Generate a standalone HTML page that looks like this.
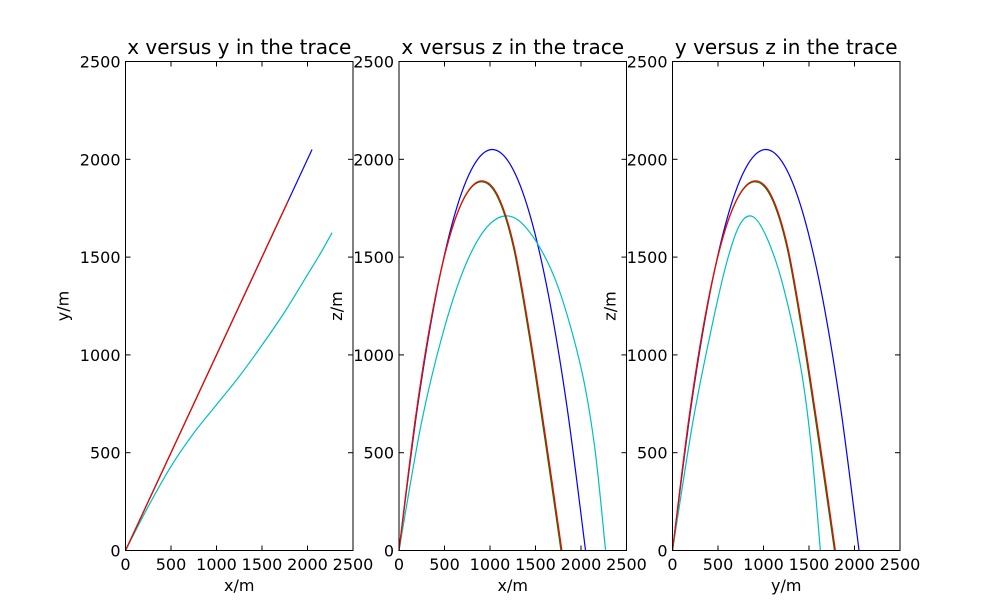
<!DOCTYPE html>
<html><head><meta charset="utf-8"><style>
html,body{margin:0;padding:0;background:#fff;}
svg{display:block;font-family:"DejaVu Sans","Liberation Sans",sans-serif;}
</style></head><body>
<svg id="fig" width="1000" height="612" viewBox="0 0 1000 612"></svg>
<script>
// Tick labels
const xTicks = [0, 500, 1000, 1500, 2000, 2500];
const yTicks = [0, 500, 1000, 1500, 2000, 2500];
// Trajectory samples
const blueX = [0, 205, 410, 615, 820, 1025, 1230, 1435, 1640, 1845, 2050];
const blueY = [0, 205, 410, 615, 820, 1025, 1230, 1435, 1640, 1845, 2050];
const blueZ = [0, 738, 1312, 1722, 1968, 2050, 1968, 1722, 1312, 738, 0];
const greenX = [0, 181, 362, 543, 724, 905, 1080, 1255, 1430, 1605, 1780];
const greenY = [0, 181, 362, 543, 724, 905, 1080, 1255, 1430, 1605, 1780];
const greenZ = [0, 676, 1204, 1582, 1808, 1885, 1810, 1555, 1100, 565, 0];
const redX = [0, 182, 364, 546, 728, 910, 1086, 1262, 1438, 1614, 1790];
const redY = [0, 182, 364, 546, 728, 910, 1086, 1262, 1438, 1614, 1790];
const redZ = [0, 680, 1210, 1588, 1814, 1890, 1815, 1560, 1105, 570, 0];
const cyanX = [0, 250, 500, 750, 1000, 1250, 1500, 1750, 2000, 2150, 2270];
const cyanY = [0, 225, 430, 600, 745, 890, 1050, 1220, 1410, 1525, 1625];
const cyanZ = [0, 660, 1140, 1480, 1670, 1705, 1585, 1345, 935, 530, 0];
const titles = ["x versus y in the trace", "x versus z in the trace", "y versus z in the trace"];
const xLabels = ["x/m", "x/m", "y/m"];
const yLabels = ["y/m", "z/m", "z/m"];

const NS = "http://www.w3.org/2000/svg";
const svg = document.getElementById("fig");
function mk(tag, attrs, parent) {
  const e = document.createElementNS(NS, tag);
  for (const k in attrs) e.setAttribute(k, attrs[k]);
  (parent || svg).appendChild(e);
  return e;
}
const panels = [{l:125.5, r:353}, {l:399, r:626.5}, {l:672.5, r:900}];
const axTop = 61.5, axBot = 550.5;
function sx(p, v) { return p.l + (v / 2500) * (p.r - p.l); }
function sy(v) { return axBot - (v / 2500) * (axBot - axTop); }
function pathFor(p, xs, ys) {
  const pts = xs.map((x, i) => [sx(p, x), sy(ys[i])]);
  let d = "M" + pts[0][0] + "," + pts[0][1];
  for (let i = 0; i < pts.length - 1; i++) {
    const p0 = pts[Math.max(i - 1, 0)], p1 = pts[i], p2 = pts[i + 1], p3 = pts[Math.min(i + 2, pts.length - 1)];
    const c1 = [p1[0] + (p2[0] - p0[0]) / 6, p1[1] + (p2[1] - p0[1]) / 6];
    const c2 = [p2[0] - (p3[0] - p1[0]) / 6, p2[1] - (p3[1] - p1[1]) / 6];
    d += " C" + c1[0] + "," + c1[1] + " " + c2[0] + "," + c2[1] + " " + p2[0] + "," + p2[1];
  }
  return d;
}
const series = [
  {n:"blue", c:"#0000ff", x:blueX, y:blueY, z:blueZ},
  {n:"cyan", c:"#00bfbf", x:cyanX, y:cyanY, z:cyanZ},
  {n:"green", c:"#008000", x:greenX, y:greenY, z:greenZ},
  {n:"red", c:"#ff0000", x:redX, y:redY, z:redZ}
];
panels.forEach((p, pi) => {
  const g = mk("g", {});
  
  
  const t = mk("text", {x:(p.l + p.r) / 2, y:54, "text-anchor":"middle", "font-size":20, fill:"#000"}, g);
  t.textContent = titles[pi];
  
  
  series.forEach(s => {
    let hx, hy;
    if (pi === 0) { hx = s.x; hy = s.y; }
    else if (pi === 1) { hx = s.x; hy = s.z; }
    else { hx = s.y; hy = s.z; }
    const path = mk("path", {d:pathFor(p, hx, hy), fill:"none", stroke:s.c, "stroke-width":1.2}, g);
    
    
  });
  xTicks.forEach(v => {
    const x = sx(p, v);
    mk("line", {x1:x, x2:x, y1:axBot, y2:axBot - 5, stroke:"#000"}, g);
    mk("line", {x1:x, x2:x, y1:axTop, y2:axTop + 5, stroke:"#000"}, g);
    const tl = mk("text", {x:x, y:570, "text-anchor":"middle", "font-size":16}, g);
    tl.textContent = v;
    
    
  });
  yTicks.forEach(v => {
    const y = sy(v);
    mk("line", {x1:p.l, x2:p.l + 5, y1:y, y2:y, stroke:"#000"}, g);
    mk("line", {x1:p.r, x2:p.r - 5, y1:y, y2:y, stroke:"#000"}, g);
    const tl = mk("text", {x:p.l - 5, y:y + 6, "text-anchor":"end", "font-size":16}, g);
    tl.textContent = v;
    
    
  });
  const frame = mk("rect", {x:p.l, y:axTop, width:p.r - p.l, height:axBot - axTop, fill:"none", stroke:"#000", "stroke-width":1}, g);
  
  
  const xl = mk("text", {x:(p.l + p.r) / 2, y:591, "text-anchor":"middle", "font-size":16}, g);
  xl.textContent = xLabels[pi];
  
  
  const yx = p.l - 57;
  const yl = mk("text", {x:yx, y:(axTop + axBot) / 2, "text-anchor":"middle", "font-size":16, transform:"rotate(-90 " + yx + " " + ((axTop + axBot) / 2) + ")"}, g);
  yl.textContent = yLabels[pi];
  
  
});
</script>
</body></html>
